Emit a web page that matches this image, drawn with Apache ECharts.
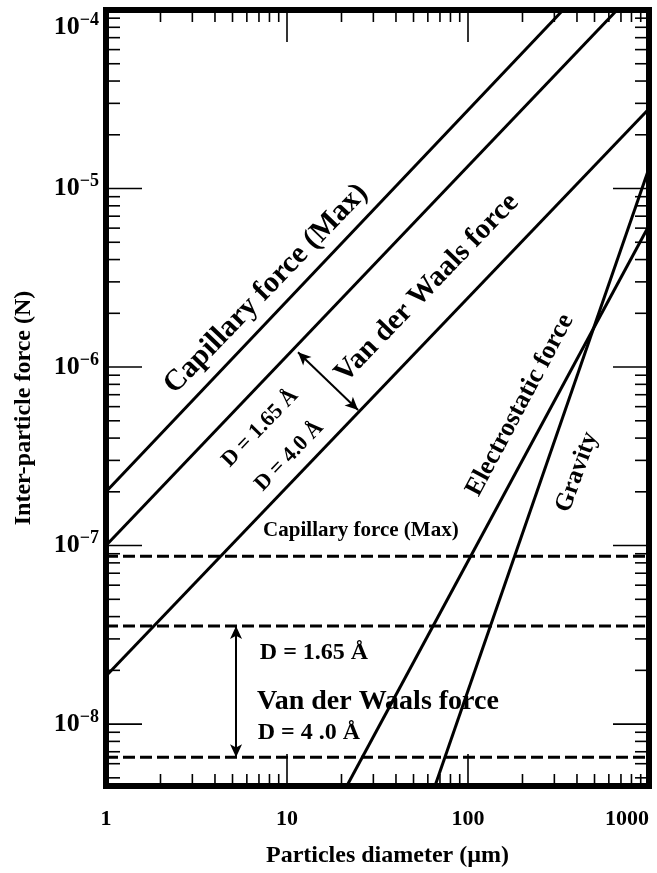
<!DOCTYPE html>
<html><head><meta charset="utf-8">
<script src="https://cdn.jsdelivr.net/npm/echarts@6/dist/echarts.min.js"></script>
<style>html,body{margin:0;padding:0;background:#fff}#c{width:657px;height:873px}</style>
</head><body><div id="c"></div>
<script>
// ---- axis ranges ----
const xMin = 1, xMax = 1000, yMin = 4.5e-9, yMax = 1e-4;

// ---- line series (diameter µm, force N) ----
const capillaryDiag = [[1, 2.0e-7], [335, 1e-4]];
const vdw165Diag = [[1, 1.0e-7], [666, 1e-4]];
const vdw40Diag = [[1, 1.86e-8], [1000, 2.8e-5]];
const electrostatic = [[21.4, 4.5e-9], [1000, 6.2e-6]];
const gravity = [[65.7, 4.5e-9], [1000, 1.3e-5]];
const capillaryFlat = [[1, 8.7e-8], [1000, 8.7e-8]];
const vdw165Flat = [[1, 3.54e-8], [1000, 3.54e-8]];
const vdw40Flat = [[1, 6.53e-9], [1000, 6.53e-9]];

// ---- double arrows ----
const arrowDiag = [[11.5, 1.21e-6], [24.7, 5.74e-7]];
const arrowFlat = [[5.23, 3.54e-8], [5.23, 6.53e-9]];

// ---- ticks ----
const xMajorTicks = [1, 10, 100, 1000];
const xMinorTicks = [2, 3, 4, 5, 6, 7, 8, 9, 20, 30, 40, 50, 60, 70, 80, 90, 200, 300, 400, 500, 600, 700, 800, 900];
const yMajorTicks = [1e-8, 1e-7, 1e-6, 1e-5, 1e-4];
const yMinorTicks = [5e-9, 6e-9, 7e-9, 8e-9, 9e-9,
  2e-8, 3e-8, 4e-8, 5e-8, 6e-8, 7e-8, 8e-8, 9e-8,
  2e-7, 3e-7, 4e-7, 5e-7, 6e-7, 7e-7, 8e-7, 9e-7,
  2e-6, 3e-6, 4e-6, 5e-6, 6e-6, 7e-6, 8e-6, 9e-6,
  2e-5, 3e-5, 4e-5, 5e-5, 6e-5, 7e-5, 8e-5, 9e-5];

// ---- annotations ----
const annotationTexts = ['Capillary force (Max)', 'Van der Waals force', 'D = 1.65 Å', 'D = 4.0 Å',
  'Electrostatic force', 'Gravity', 'Capillary force (Max)', 'D = 1.65 Å', 'Van der Waals force', 'D = 4 .0 Å'];
const annotationAnchors = [[7.66, 2.74e-6], [59.3, 2.77e-6], [7.1, 4.55e-7], [10.3, 3.17e-7],
  [193.8, 6.12e-7], [400, 2.58e-7], [25.6, 1.22e-7], [14.1, 2.5e-8], [31.8, 1.33e-8], [13.2, 8.9e-9]];
const annotationStyle = [
  {rotate: 46, size: 30}, {rotate: 46, size: 29}, {rotate: 46, size: 22}, {rotate: 46, size: 22},
  {rotate: 62, size: 26}, {rotate: 70, size: 25}, {rotate: 0, size: 21}, {rotate: 0, size: 24},
  {rotate: 0, size: 28}, {rotate: 0, size: 24}
];

const FONT = 'Liberation Serif';

function tickSeries(vals, dir, len) {
  return {
    type: 'custom', silent: true, z: 5, clip: false,
    data: vals.map(v => dir === 'x' ? [v, yMin] : [xMin, v]),
    renderItem: (params, api) => {
      const v = vals[params.dataIndex];
      const st = {stroke: '#000', lineWidth: 1.6};
      if (dir === 'x') {
        const b = api.coord([v, yMin]), t = api.coord([v, yMax]);
        return {type: 'group', children: [
          {type: 'line', shape: {x1: b[0], y1: b[1], x2: b[0], y2: b[1] - len}, style: st},
          {type: 'line', shape: {x1: t[0], y1: t[1], x2: t[0], y2: t[1] + len}, style: st}
        ]};
      } else {
        const l = api.coord([xMin, v]), r = api.coord([xMax, v]);
        return {type: 'group', children: [
          {type: 'line', shape: {x1: l[0], y1: l[1], x2: l[0] + len, y2: l[1]}, style: st},
          {type: 'line', shape: {x1: r[0], y1: r[1], x2: r[0] - len, y2: r[1]}, style: st}
        ]};
      }
    }
  };
}

function solid(data) {
  return {type: 'line', data: data, showSymbol: false, symbol: 'none', silent: true, z: 3,
    lineStyle: {color: '#000', width: 3}};
}
function dashed(data) {
  return {type: 'line', data: data, showSymbol: false, symbol: 'none', silent: true, z: 3,
    lineStyle: {color: '#000', width: 3, type: [12, 5]}};
}

const chart = echarts.init(document.getElementById('c'), null, {renderer: 'canvas'});

const option = {
  animation: false,
  backgroundColor: '#fff',
  grid: {left: 106, right: 8, top: 10, bottom: 87, show: true, borderColor: '#000', borderWidth: 6, containLabel: false},
  xAxis: {
    type: 'log', min: xMin, max: xMax, logBase: 10,
    axisLine: {show: false}, axisTick: {show: false}, splitLine: {show: false}, minorTick: {show: false},
    axisLabel: {
      margin: 22, fontFamily: FONT, fontWeight: 'bold', fontSize: 22, color: '#000',
      alignMaxLabel: 'right',
      formatter: v => {
        const e = Math.log10(v);
        return Math.abs(e - Math.round(e)) < 1e-6 ? String(Math.round(v)) : '';
      }
    },
    name: 'Particles diameter (µm)', nameLocation: 'middle', nameGap: 58,
    nameTextStyle: {fontFamily: FONT, fontWeight: 'bold', fontSize: 24, color: '#000', padding: [0, 0, 0, 20]}
  },
  yAxis: {
    type: 'log', min: yMin, max: yMax, logBase: 10,
    axisLine: {show: false}, axisTick: {show: false}, splitLine: {show: false}, minorTick: {show: false},
    axisLabel: {
      margin: 7, color: '#000',
      formatter: v => {
        const e = Math.log10(v);
        const r = Math.round(e);
        if (Math.abs(e - r) > 1e-6) return '';
        if (r === -4) return '{bt|10}{st|−4}';
        return '{b|10}{s|−' + Math.abs(r) + '}';
      },
      rich: {
        b: {fontFamily: FONT, fontWeight: 'bold', fontSize: 26, color: '#000'},
        s: {fontFamily: FONT, fontWeight: 'bold', fontSize: 18, color: '#000', padding: [0, 0, 14, 0]},
        bt: {fontFamily: FONT, fontWeight: 'bold', fontSize: 26, color: '#000', padding: [34, 0, 0, 0]},
        st: {fontFamily: FONT, fontWeight: 'bold', fontSize: 18, color: '#000', padding: [34, 0, 14, 0]}
      }
    },
    name: 'Inter-particle force (N)', nameLocation: 'middle', nameGap: 70,
    nameTextStyle: {fontFamily: FONT, fontWeight: 'bold', fontSize: 24, color: '#000', padding: [0, 20, 0, 0]}
  },
  series: [
    solid(capillaryDiag),
    solid(vdw165Diag),
    Object.assign(solid(vdw40Diag), {
      markLine: {
        silent: true, symbol: ['arrow', 'arrow'], symbolSize: [9, 13],
        lineStyle: {color: '#000', width: 2, type: 'solid'}, label: {show: false},
        data: [
          [{coord: arrowDiag[0]}, {coord: arrowDiag[1]}],
          [{coord: arrowFlat[0]}, {coord: arrowFlat[1]}]
        ]
      }
    }),
    solid(electrostatic),
    solid(gravity),
    dashed(capillaryFlat),
    dashed(vdw165Flat),
    dashed(vdw40Flat),
    tickSeries(xMajorTicks, 'x', 32),
    tickSeries(xMinorTicks, 'x', 12),
    tickSeries(yMajorTicks, 'y', 36),
    tickSeries(yMinorTicks, 'y', 14),
    {
      type: 'scatter', silent: true, z: 6, symbolSize: 0,
      itemStyle: {color: '#000', opacity: 1},
      data: annotationAnchors.map((p, i) => ({
        value: p,
        label: {
          show: true, position: 'inside', formatter: annotationTexts[i],
          rotate: annotationStyle[i].rotate, fontSize: annotationStyle[i].size,
          fontFamily: FONT, fontWeight: 'bold', color: '#000',
          textBorderWidth: 0, textShadowBlur: 0, opacity: 1
        }
      }))
    }
  ]
};
chart.setOption(option);
</script>
</body></html>
